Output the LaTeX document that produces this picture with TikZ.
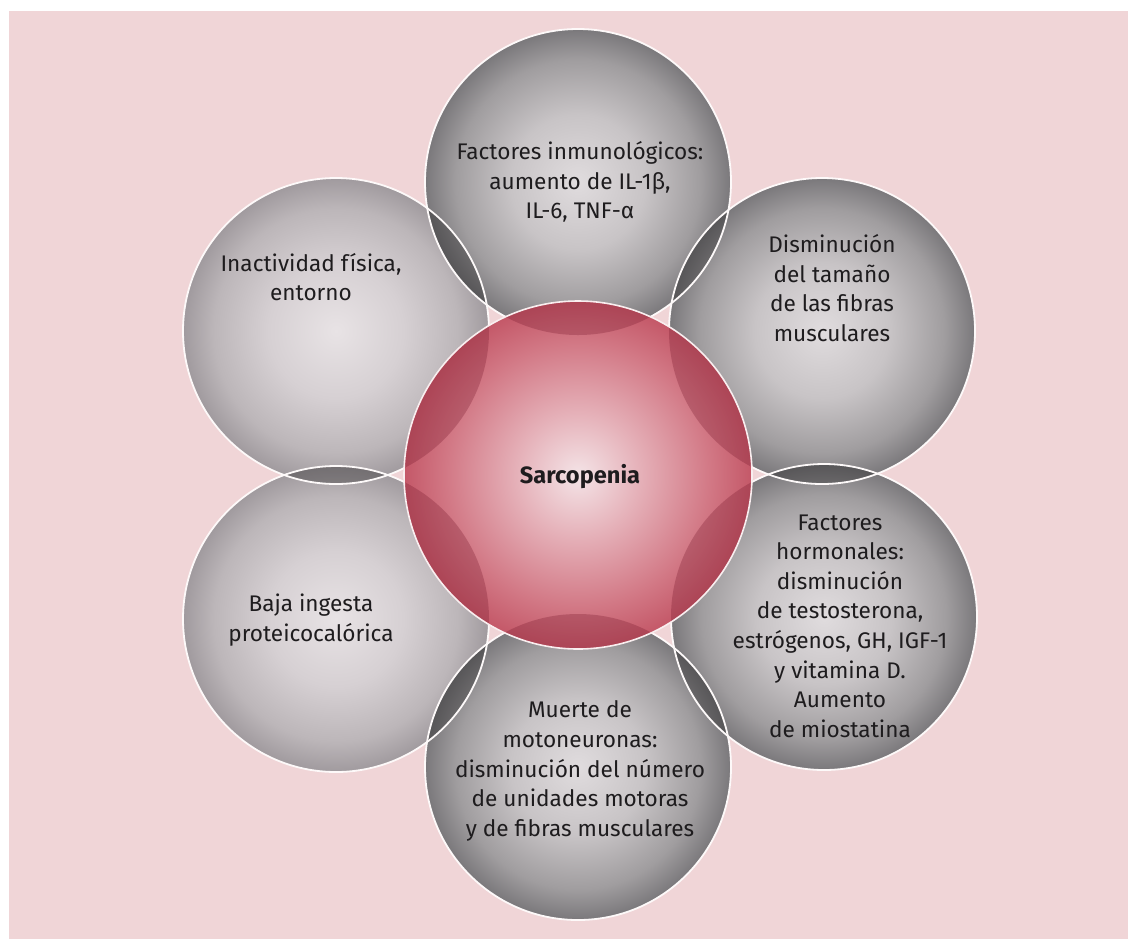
\documentclass[tikz,border=0pt]{standalone}
\usepackage{fontspec}
\setmainfont{Fira Sans}
\usetikzlibrary{calc}

\definecolor{bgpink}{RGB}{240,213,215}
\definecolor{greyA}{RGB}{224,220,222}
\definecolor{greyB}{RGB}{200,196,198}
\definecolor{greyC}{RGB}{160,157,159}
\definecolor{greyD}{RGB}{122,120,123}
\definecolor{paleA}{RGB}{232,227,229}
\definecolor{paleB}{RGB}{214,208,211}
\definecolor{paleC}{RGB}{188,182,185}
\definecolor{paleD}{RGB}{160,154,158}
\definecolor{redA}{RGB}{244,228,231}
\definecolor{redB}{RGB}{229,176,184}
\definecolor{redC}{RGB}{210,120,133}
\definecolor{redD}{RGB}{196,88,104}
\definecolor{lensred}{RGB}{120,25,45}
\definecolor{textgrey}{RGB}{30,28,30}

\pgfdeclareradialshading{ballgrey}{\pgfpoint{0bp}{0bp}}{color(0bp)=(greyA); color(11bp)=(greyB); color(20bp)=(greyC); color(25bp)=(greyD); color(50bp)=(greyD)}
\pgfdeclareradialshading{ballpale}{\pgfpoint{0bp}{0bp}}{color(0bp)=(paleA); color(11bp)=(paleB); color(20bp)=(paleC); color(25bp)=(paleD); color(50bp)=(paleD)}
\pgfdeclareradialshading{ballred}{\pgfpoint{0bp}{0bp}}{color(0bp)=(redA); color(9bp)=(redB); color(19bp)=(redC); color(25bp)=(redD); color(50bp)=(redD)}

\def\lens[#1](#2:#3)(#4:#5){\begin{scope}\clip (#2) circle (#3); \fill[#1] (#4) circle (#5); \end{scope}}

\tikzset{
	circtext/.style={align=center, text=textgrey, inner sep=0pt, font=\fontsize{11.3}{14.8}\selectfont},
	rim/.style={draw=white!85!bgpink, line width=0.9pt}
}

\begin{document}
\begin{tikzpicture}[x=0.5pt, y=-0.5pt]
			%%%%% START %%%%%
			
			\useasboundingbox (0, 0) rectangle (1128, 938);
			\fill[white] (-5, -5) rectangle (1140, 950);
			\fill[bgpink] (9, 11) rectangle (1140, 950);
			
			\coordinate (ctr) at (578, 475);
			\coordinate (top) at (578, 182);
			\coordinate (bot) at (578, 767);
			\coordinate (upl) at (336, 331);
			\coordinate (upr) at (822, 331);
			\coordinate (lol) at (336, 619);
			\coordinate (lor) at (824, 617);
			
			% outer balls
			\shade[shading=ballpale] (upl) circle (153);
			\shade[shading=ballpale] (lol) circle (153);
			\shade[shading=ballgrey] (top) circle (153);
			\shade[shading=ballgrey] (upr) circle (153);
			\shade[shading=ballgrey] (lor) circle (153);
			\shade[shading=ballgrey] (bot) circle (153);
			
			\lens[black, opacity=0.28](top:153)(upl:153);
			\lens[black, opacity=0.28](top:153)(upr:153);
			\lens[black, opacity=0.28](upl:153)(lol:153);
			\lens[black, opacity=0.28](upr:153)(lor:153);
			\lens[black, opacity=0.28](bot:153)(lol:153);
			\lens[black, opacity=0.28](bot:153)(lor:153);
			
			\draw[rim] (upl) circle (153);
			\draw[rim] (lol) circle (153);
			\draw[rim] (top) circle (153);
			\draw[rim] (upr) circle (153);
			\draw[rim] (lor) circle (153);
			\draw[rim] (bot) circle (153);
			
			% centre ball
			\shade[shading=ballred] (ctr) circle (174);
			\lens[lensred, opacity=0.3](ctr:174)(top:153);
			\lens[lensred, opacity=0.3](ctr:174)(bot:153);
			\lens[lensred, opacity=0.3](ctr:174)(upl:153);
			\lens[lensred, opacity=0.3](ctr:174)(upr:153);
			\lens[lensred, opacity=0.3](ctr:174)(lol:153);
			\lens[lensred, opacity=0.3](ctr:174)(lor:153);
			\draw[line width=0.8pt, color=white!60!bgpink] (ctr) circle (174);
			
			% texts
			\node[circtext, font=\fontsize{11.8}{14.8}\selectfont\bfseries] (sarco) at (580, 477) {Sarcopenia};
			\node[circtext] (immuno) at (580, 182) {Factores inmunológicos:\\aumento de IL-1β,\\IL-6, TNF-α};
			\node[circtext] (fisica) at (311, 277) {Inactividad física,\\entorno};
			\node[circtext] (fibras) at (832, 288) {Disminución\\del tamaño\\de las fibras\\musculares};
			\node[circtext] (hormon) at (840, 626) {Factores\\hormonales:\\disminución\\de testosterona,\\estrógenos, GH, IGF-1\\y vitamina D.\\Aumento\\de miostatina};
			\node[circtext] (ingesta) at (311, 620) {Baja ingesta\\proteicocalórica};
			\node[circtext] (motor) at (580, 771) {Muerte de\\motoneuronas:\\disminución del número\\de unidades motoras\\y de fibras musculares};
			
			%%%%% END %%%%%
		\end{tikzpicture}
\end{document}
